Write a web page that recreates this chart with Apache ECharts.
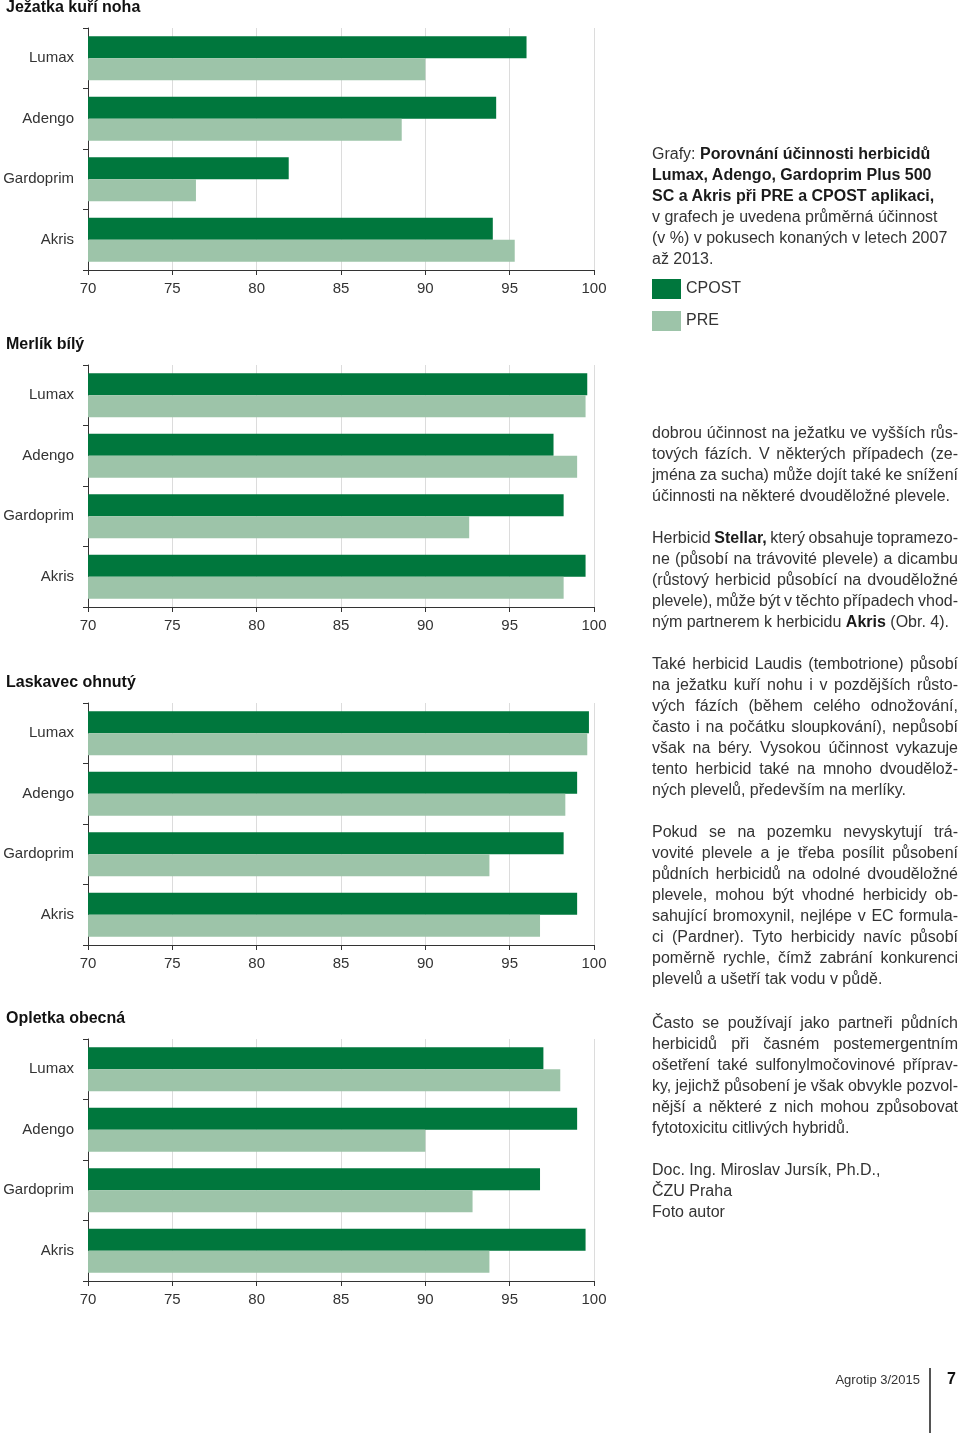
<!DOCTYPE html>
<html>
<head>
<meta charset="utf-8">
<script src="https://cdn.jsdelivr.net/npm/echarts@6/dist/echarts.min.js"></script>
<style>
  html, body { margin:0; padding:0; background:#fff; }
  #wrap { position:relative; width:960px; height:1433px; overflow:hidden; }
  #chart { position:absolute; left:0; top:0; width:960px; height:1433px; }
  .txt { position:absolute; left:652px; width:306px; font-family:'Liberation Sans', Arial, sans-serif; font-size:16px; line-height:21px; color:#333; }
  .txt span.ln { display:block; white-space:nowrap; }
  .j span.ln { display:block; width:max-content; }
  b { color:#1a1a1a; }
  #foot { position:absolute; right:40px; top:1372px; font-family:'Liberation Sans', Arial, sans-serif; font-size:13px; color:#333; }
  #vline { position:absolute; left:929px; top:1368px; width:2px; height:65px; background:#555; }
  #pg { position:absolute; left:947px; top:1370px; font-family:'Liberation Sans', Arial, sans-serif; font-size:16px; font-weight:bold; color:#111; }
</style>
</head>
<body>
<div id="wrap">
  <div id="chart"></div>
  <div class="txt" style="top:143px;">
    <span class="ln">Grafy: <b>Porovnání účinnosti herbicidů</b></span>
    <span class="ln"><b>Lumax, Adengo, Gardoprim Plus 500</b></span>
    <span class="ln"><b>SC a Akris při PRE a CPOST aplikaci,</b></span>
    <span class="ln">v grafech je uvedena průměrná účinnost</span>
    <span class="ln">(v %) v pokusech konaných v letech 2007</span>
    <span class="ln">až 2013.</span>
  </div>
  <div class="txt j" style="top:422px;">
    <span class="ln">dobrou účinnost na ježatku ve vyšších růs-</span>
    <span class="ln">tových fázích. V některých případech (ze-</span>
    <span class="ln">jména za sucha) může dojít také ke snížení</span>
    <span class="ln l">účinnosti na některé dvouděložné plevele.</span>
  </div>
  <div class="txt j" style="top:527px;">
    <span class="ln">Herbicid <b>Stellar,</b> který obsahuje topramezo-</span>
    <span class="ln">ne (působí na trávovité plevele) a dicambu</span>
    <span class="ln">(růstový herbicid působící na dvouděložné</span>
    <span class="ln">plevele), může být v těchto případech vhod-</span>
    <span class="ln l">ným partnerem k herbicidu <b>Akris</b> (Obr. 4).</span>
  </div>
  <div class="txt j" style="top:653px;">
    <span class="ln">Také herbicid Laudis (tembotrione) působí</span>
    <span class="ln">na ježatku kuří nohu i v pozdějších růsto-</span>
    <span class="ln">vých fázích (během celého odnožování,</span>
    <span class="ln">často i na počátku sloupkování), nepůsobí</span>
    <span class="ln">však na béry. Vysokou účinnost vykazuje</span>
    <span class="ln">tento herbicid také na mnoho dvoudělož-</span>
    <span class="ln l">ných plevelů, především na merlíky.</span>
  </div>
  <div class="txt j" style="top:821px;">
    <span class="ln">Pokud se na pozemku nevyskytují trá-</span>
    <span class="ln">vovité plevele a je třeba posílit působení</span>
    <span class="ln">půdních herbicidů na odolné dvouděložné</span>
    <span class="ln">plevele, mohou být vhodné herbicidy ob-</span>
    <span class="ln">sahující bromoxynil, nejlépe v EC formula-</span>
    <span class="ln">ci (Pardner). Tyto herbicidy navíc působí</span>
    <span class="ln">poměrně rychle, čímž zabrání konkurenci</span>
    <span class="ln l">plevelů a ušetří tak vodu v půdě.</span>
  </div>
  <div class="txt j" style="top:1012px;">
    <span class="ln">Často se používají jako partneři půdních</span>
    <span class="ln">herbicidů při časném postemergentním</span>
    <span class="ln">ošetření také sulfonylmočovinové příprav-</span>
    <span class="ln">ky, jejichž působení je však obvykle pozvol-</span>
    <span class="ln">nější a některé z nich mohou způsobovat</span>
    <span class="ln l">fytotoxicitu citlivých hybridů.</span>
  </div>
  <div class="txt" style="top:1159px;">
    <span class="ln">Doc. Ing. Miroslav Jursík, Ph.D.,</span>
    <span class="ln">ČZU Praha</span>
    <span class="ln">Foto autor</span>
  </div>
  <div id="foot">Agrotip 3/2015</div>
  <div id="vline"></div>
  <div id="pg">7</div>
</div>
<script>
// ---- data ----
const categories = ['Lumax', 'Adengo', 'Gardoprim', 'Akris'];
const chartTitles = ['Ježatka kuří noha', 'Merlík bílý', 'Laskavec ohnutý', 'Opletka obecná'];
const seriesNames = ['CPOST', 'PRE'];
const cpostJezatka = [96.0, 94.2, 81.9, 94.0];
const preJezatka   = [90.0, 88.6, 76.4, 95.3];
const cpostMerlik  = [99.6, 97.6, 98.2, 99.5];
const preMerlik    = [99.5, 99.0, 92.6, 98.2];
const cpostLaskavec = [99.7, 99.0, 98.2, 99.0];
const preLaskavec   = [99.6, 98.3, 93.8, 96.8];
const cpostOpletka = [97.0, 99.0, 96.8, 99.5];
const preOpletka   = [98.0, 90.0, 92.8, 93.8];
const xMin = 70, xMax = 100, xStep = 5;

const panels = [
  [cpostJezatka, preJezatka],
  [cpostMerlik, preMerlik],
  [cpostLaskavec, preLaskavec],
  [cpostOpletka, preOpletka]
];

// ---- justify text lines to column width (styling only) ----
const COL_W = 306;
document.querySelectorAll('.j span.ln').forEach(sp => {
  if (sp.classList.contains('l')) return;
  const w = sp.getBoundingClientRect().width;
  const n = (sp.textContent.match(/ /g) || []).length;
  if (n > 0) sp.style.wordSpacing = ((COL_W - w) / n) + 'px';
});

// ---- layout / style ----
const FONT = "'Liberation Sans', Arial, sans-serif";
const colors = ['#00773d', '#9dc4a9'];
const gridTops = [28, 365, 703, 1039];
const titleTops = [0, 337, 675, 1011];
const gridH = 242;

const chart = echarts.init(document.getElementById('chart'), null, { renderer: 'canvas' });

const grid = [], xAxis = [], yAxis = [], series = [], title = [];
panels.forEach((p, i) => {
  title.push({
    text: chartTitles[i], left: 6, top: titleTops[i], padding: 0,
    textStyle: { fontFamily: FONT, fontSize: 16, fontWeight: 'bold', color: '#111' }
  });
  grid.push({ left: 88, width: 506, top: gridTops[i], height: gridH });
  xAxis.push({
    type: 'value', gridIndex: i, min: xMin, max: xMax, interval: xStep,
    axisLine: { show: true, lineStyle: { color: '#333', width: 1 } },
    axisTick: { show: true, length: 5, lineStyle: { color: '#333' } },
    axisLabel: { fontFamily: FONT, fontSize: 15, color: '#333', margin: 11 },
    splitLine: { show: true, lineStyle: { color: '#dcdcdc', width: 1 } }
  });
  yAxis.push({
    type: 'category', gridIndex: i, data: categories, inverse: true,
    axisLine: { show: true, lineStyle: { color: '#333', width: 1 } },
    axisTick: { show: true, length: 5, lineStyle: { color: '#333' } },
    axisLabel: { fontFamily: FONT, fontSize: 15, color: '#333', margin: 14 },
    splitLine: { show: false }
  });
  p.forEach((vals, k) => {
    series.push({
      type: 'bar', name: seriesNames[k], xAxisIndex: i, yAxisIndex: i,
      data: vals, barGap: '0%', barCategoryGap: '27%',
      itemStyle: { color: colors[k] }, silent: true
    });
  });
});

chart.setOption({
  animation: false,
  title: title,
  color: colors,
  legend: {
    data: seriesNames, orient: 'vertical', left: 652, top: 279, padding: 0,
    itemWidth: 29, itemHeight: 20, itemGap: 12, icon: 'rect',
    selectedMode: false,
    textStyle: { fontFamily: FONT, fontSize: 16, color: '#333', padding: [0, 0, 0, 0] }
  },
  grid: grid, xAxis: xAxis, yAxis: yAxis, series: series
});
</script>
</body>
</html>
